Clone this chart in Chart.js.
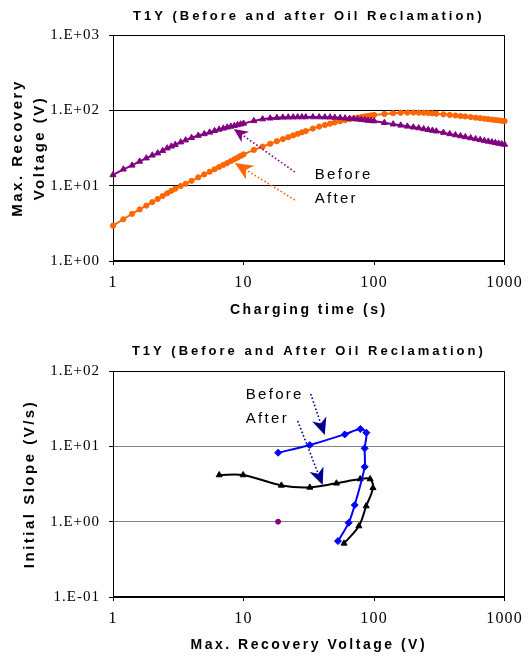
<!DOCTYPE html>
<html><head><meta charset="utf-8">
<script src="https://cdn.jsdelivr.net/npm/chart.js@4.4.0/dist/chart.umd.min.js"></script>
<style>
html,body{margin:0;padding:0;background:#fff;}
#wrap{width:529px;height:658px;}
canvas{display:block;}
</style></head><body>
<div id="wrap">
<canvas id="c1" width="529" height="329"></canvas>
<canvas id="c2" width="529" height="329"></canvas>
</div>
<script>
// ---------- Top chart data ----------
const chargingTime = [1,1.2,1.4,1.6,1.8,2,2.2,2.4,2.6,2.8,3,3.3,3.6,4,4.5,5,5.5,6,6.5,7,7.5,8,8.5,9,9.5,10,
  12,14,16,18,20,22,24,26,28,30,34,38,42,46,50,55,60,65,70,75,80,85,90,95,100,
  120,140,160,180,200,220,240,260,280,300,340,380,420,460,500,550,600,650,700,750,800,850,900,950,1000];
const mrvBefore = [13.9,16.5,18.6,21.0,23.2,25.3,27.0,29.0,31.5,33.3,35.0,37.8,40.2,43.2,46.3,48.6,51.0,53.5,55.8,57.7,59.5,61.0,62.5,64.0,65.5,67.0,
  72.5,76.5,78.5,80.0,80.7,81.0,81.2,81.4,81.5,81.5,81.5,81.4,81.2,81.0,80.4,79.6,78.8,77.9,77.0,76.1,75.2,74.3,73.4,72.7,72.0,
  68.5,65.5,63.2,61.3,59.6,58.2,56.6,55.2,54.0,52.8,50.6,48.6,47.0,45.6,44.3,42.9,41.7,40.6,39.6,38.7,37.9,37.1,36.4,35.8,35.2];
const mrvAfter = [2.94,3.58,4.23,4.84,5.44,6.05,6.66,7.29,7.91,8.54,9.11,9.88,10.6,11.6,12.9,14.1,15.3,16.5,17.7,18.9,20.0,21.2,22.4,23.6,24.8,26.0,
  29.8,33.0,36.0,38.9,41.5,44.0,46.5,48.8,51.0,53.0,57.3,60.8,63.8,66.5,69.0,71.8,74.3,76.6,78.5,80.2,81.7,83.1,84.5,85.7,86.7,
  89.5,91.5,92.8,93.3,93.4,93.2,92.8,92.2,91.3,90.3,88.5,86.8,85.4,84.1,82.9,81.3,79.9,78.6,77.4,76.3,75.3,74.4,73.5,72.7,72.0];
const timeTicks = [1,10,100,1000];
const timeTickLabels = ['1','10','100','1000'];
const mrvTicks = [1,10,100,1000];
const mrvTickLabels = ['1.E+00','1.E+01','1.E+02','1.E+03'];

// ---------- Bottom chart data ----------
const beforeMRV   = [18.4,32.2,59.6,78.5,87.3,84.7,84.7,71.1,63.9,52.9];
const beforeSlope = [8.22,10.4,14.4,17.0,15.2,9.40,5.35,1.66,0.966,0.552];
const afterMRV    = [6.51,9.93,19.5,32.2,51.5,78.3,93.3,98.1,87.0,76.5,58.9];
const afterSlope  = [4.16,4.16,3.03,2.85,3.23,3.68,3.68,2.81,1.61,0.875,0.515];
const strayMRV    = [18.4];
const straySlope  = [1.0];
const vTicks = [1,10,100,1000];
const vTickLabels = ['1','10','100','1000'];
const slopeTicks = [0.1,1,10,100];
const slopeTickLabels = ['1.E-01','1.E+00','1.E+01','1.E+02'];

// ---------- Annotations (data coordinates) ----------
const topArrows = [
  {from:[24.7,15.2], to:[8.43,56.6], color:'#800080', L:14, W:6.5},
  {from:[24.7,6.46], to:[8.58,20.0], color:'#FF6600', L:18, W:8}
];
const topLabels = [{text:'Before', at:[35.1,13.9]}, {text:'After', at:[35.1,6.66]}];
const botArrows = [
  {from:[32.7,49.5], to:[41.9,14.1], color:'#000090', L:17, W:7.5},
  {from:[26.0,21.7], to:[40.4,3.06], color:'#000090', L:17, W:7.5}
];
const botLabels = [{text:'Before', at:[10.4,48]}, {text:'After', at:[10.4,23]}];

const SANS = "'Liberation Sans', Arial, sans-serif";
const SERIF = "'Liberation Serif', 'Times New Roman', serif";

function pairs(xs, ys){ return xs.map((x,i)=>({x:x, y:ys[i]})); }

function wrapSpacing(obj, method, spacing){
  const orig = obj[method];
  obj[method] = function(){
    const ctx = this.ctx;
    const prev = ctx.letterSpacing;
    ctx.letterSpacing = spacing;
    try { return orig.apply(this, arguments); } finally { ctx.letterSpacing = prev; }
  };
}

const spacingPlugin = {
  id:'spacing',
  beforeDraw(chart){
    if (chart.$spaced) return;
    chart.$spaced = true;
    if (chart.titleBlock) wrapSpacing(chart.titleBlock, 'draw', '3px');
    ['x','y'].forEach(id=>{
      const s = chart.scales[id];
      wrapSpacing(s, 'drawTitle', '2.5px');
      wrapSpacing(s, 'drawLabels', id==='x' ? '1.2px' : '1px');
    });
  }
};

const framePlugin = {
  id:'frame',
  beforeDatasetsDraw(chart){
    const a = chart.chartArea, ctx = chart.ctx;
    ctx.save();
    ctx.strokeStyle = '#000'; ctx.lineWidth = 1;
    const l = Math.round(a.left)+0.5, t = Math.round(a.top)+0.5, r = Math.round(a.right)-0.5, b = Math.round(a.bottom)-0.5;
    ctx.strokeRect(l, t, r-l, b-t);
    ctx.restore();
  }
};

function drawArrow(ctx, x0, y0, x1, y1, color, L, W){
  const dx = x1-x0, dy = y1-y0, len = Math.hypot(dx,dy);
  const ux = dx/len, uy = dy/len;
  const N = L*0.72;
  const bx = x1-ux*L, by = y1-uy*L;
  const nx = x1-ux*N, ny = y1-uy*N;
  ctx.save();
  ctx.strokeStyle = color; ctx.lineWidth = 1.6; ctx.setLineDash([1.6,2.2]);
  ctx.beginPath(); ctx.moveTo(x0,y0); ctx.lineTo(nx,ny); ctx.stroke();
  ctx.setLineDash([]); ctx.fillStyle = color;
  ctx.beginPath(); ctx.moveTo(x1,y1);
  ctx.lineTo(bx-uy*W, by+ux*W); ctx.lineTo(nx,ny); ctx.lineTo(bx+uy*W, by-ux*W);
  ctx.closePath(); ctx.fill();
  ctx.restore();
}

function annotationPlugin(arrows, labels){
  return {
    id:'notes',
    afterDatasetsDraw(chart){
      const ctx = chart.ctx, xs = chart.scales.x, ys = chart.scales.y;
      arrows.forEach(a=>{
        drawArrow(ctx, xs.getPixelForValue(a.from[0]), ys.getPixelForValue(a.from[1]),
          xs.getPixelForValue(a.to[0]), ys.getPixelForValue(a.to[1]), a.color, a.L, a.W);
      });
      ctx.save();
      ctx.letterSpacing = '2.3px';
      ctx.font = '15px ' + SANS;
      ctx.fillStyle = '#000'; ctx.textAlign = 'left'; ctx.textBaseline = 'middle';
      labels.forEach(l=>{
        ctx.fillText(l.text, xs.getPixelForValue(l.at[0]), ys.getPixelForValue(l.at[1]));
      });
      ctx.restore();
    }
  };
}

function logAxis(o){
  return {
    type:'logarithmic', min:o.min, max:o.max, position:o.position,
    afterBuildTicks: s => { s.ticks = o.tickValues.map(v=>({value:v})); },
    afterFit: s => { if (o.position==='left') s.width = o.size; else s.height = o.size; },
    ticks:{
      callback:(v,i)=>o.tickLabels[i], autoSkip:false, maxRotation:0, minRotation:0,
      padding:o.tickPadding, color:'#000',
      font:{family:SERIF, size:o.tickSize, lineHeight:1.2}
    },
    grid:{
      drawOnChartArea:o.gridOn, color:o.gridColor, lineWidth:1,
      tickLength:4, tickColor:'#000', tickWidth:1
    },
    border:{display:true, color:'#000', width:1},
    title:{display:true, text:o.title, color:'#000',
      font:{family:SANS, size:o.titleSize, weight:'bold', lineHeight:o.titleLH},
      padding:o.titlePadding}
  };
}

function baseOptions(titleText, titlePad, xAxis, yAxis){
  return {
    responsive:false, animation:false, devicePixelRatio:1,
    layout:{padding:{left:0, right:24, top:0, bottom:0}},
    plugins:{
      legend:{display:false}, tooltip:{enabled:false},
      title:{display:true, text:titleText, fullSize:false, color:'#000',
        font:{family:SANS, size:13, weight:'bold', lineHeight:1.2}, padding:titlePad}
    },
    scales:{x:xAxis, y:yAxis}
  };
}

// ---------- Top chart ----------
new Chart(document.getElementById('c1'), {
  type:'line',
  data:{datasets:[
    {label:'Before', data:pairs(chargingTime, mrvBefore), borderColor:'#800080', backgroundColor:'#800080',
     borderWidth:2, pointStyle:'triangle', pointRadius:3.5, pointBorderWidth:1, tension:0, clip:false},
    {label:'After', data:pairs(chargingTime, mrvAfter), borderColor:'#FF6600', backgroundColor:'#FF6600',
     borderWidth:2, pointStyle:'circle', pointRadius:2.6, pointBorderWidth:1, tension:0, clip:false}
  ]},
  options: baseOptions('T1Y (Before and after Oil Reclamation)', {top:8.2, bottom:11.2},
    logAxis({min:1, max:1000, position:'bottom', tickValues:timeTicks, tickLabels:timeTickLabels,
      size:68, tickPadding:8.4, tickSize:16, gridOn:false, gridColor:'#000',
      title:'Charging time (s)', titleSize:14, titleLH:1.2, titlePadding:{top:0, bottom:10.2}}),
    logAxis({min:1, max:1000, position:'left', tickValues:mrvTicks, tickLabels:mrvTickLabels,
      size:113, tickPadding:9, tickSize:15, gridOn:true, gridColor:'#000',
      title:['Max. Recovery','Voltage (V)'], titleSize:15, titleLH:22/15, titlePadding:{top:6.5, bottom:0}})
  ),
  plugins:[spacingPlugin, framePlugin, annotationPlugin(topArrows, topLabels)]
});

// ---------- Bottom chart ----------
new Chart(document.getElementById('c2'), {
  type:'line',
  data:{datasets:[
    {label:'Before', data:pairs(beforeMRV, beforeSlope), borderColor:'#0000FF', backgroundColor:'#0000FF',
     borderWidth:2, pointStyle:'rectRot', pointRadius:3.5, pointBorderWidth:1, tension:0.3, clip:false},
    {label:'After', data:pairs(afterMRV, afterSlope), borderColor:'#000000', backgroundColor:'#000000',
     borderWidth:2, pointStyle:'triangle', pointRadius:3.5, pointBorderWidth:1, tension:0.35, clip:false},
    {label:'Series3', data:pairs(strayMRV, straySlope), borderColor:'#800080', backgroundColor:'#800080',
     showLine:false, pointStyle:'circle', pointRadius:2.5, pointBorderWidth:1, clip:false}
  ]},
  options: baseOptions('T1Y (Before and After Oil Reclamation)', {top:14.2, bottom:12.2},
    logAxis({min:1, max:1000, position:'bottom', tickValues:vTicks, tickLabels:vTickLabels,
      size:61, tickPadding:8.4, tickSize:16, gridOn:false, gridColor:'#000',
      title:'Max. Recovery Voltage (V)', titleSize:14, titleLH:1.2, titlePadding:{top:0, bottom:4.2}}),
    logAxis({min:0.1, max:100, position:'left', tickValues:slopeTicks, tickLabels:slopeTickLabels,
      size:113, tickPadding:9, tickSize:15, gridOn:true, gridColor:'#808080',
      title:'Initial Slope (V/s)', titleSize:15, titleLH:1.2, titlePadding:{top:21, bottom:0}})
  ),
  plugins:[spacingPlugin, framePlugin, annotationPlugin(botArrows, botLabels)]
});
</script>
</body></html>
